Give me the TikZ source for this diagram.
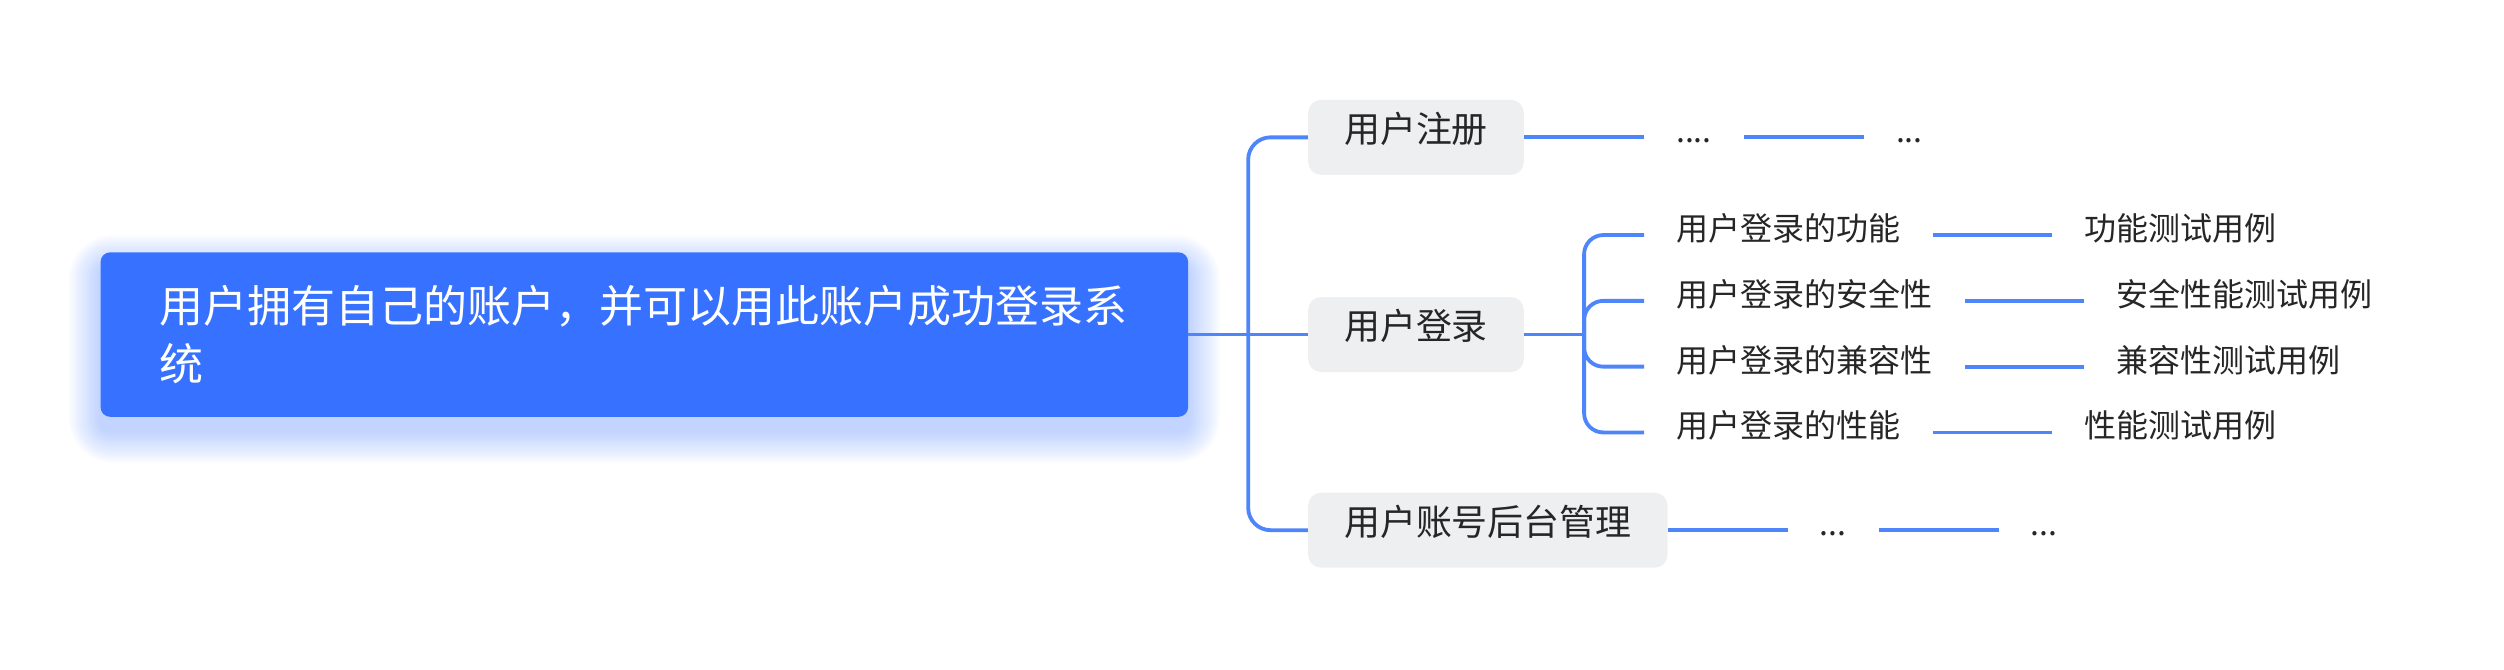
\documentclass[tikz,border=0pt]{standalone}
\usepackage{fontspec}
\setmainfont{Noto Sans CJK SC}
\usetikzlibrary{positioning,calc}
\definecolor{txt}{HTML}{262626}
\definecolor{rootfill}{HTML}{3672FF}
\definecolor{conncol}{HTML}{4E85FB}
\definecolor{boxgray}{HTML}{EEEFF1}
\newcommand{\mystrut}{\rule[-0.12em]{0pt}{1em}}
\tikzset{
  rootbox/.style={fill=rootfill, rounded corners=6pt, text=white,
    minimum width=681pt, minimum height=103pt, inner xsep=37pt, inner ysep=0pt,
    text width=607pt, align=left,
    font=\fontsize{27.55pt}{36pt}\selectfont},
  lvtwo/.style={fill=boxgray, rounded corners=8pt, text=txt, anchor=west,
    minimum height=47pt, inner xsep=22.5pt, inner ysep=0pt,
    text height=0.83em, text depth=0.17em,
    font=\fontsize{22.5pt}{27pt}\selectfont},
  lvthree/.style={text=txt, inner xsep=20pt, inner ysep=0pt,
    text height=0.84em, text depth=0.16em,
    font=\fontsize{20.04pt}{24pt}\selectfont},
  conn/.style={draw=conncol, line width=2.4pt}
}
\begin{document}
\begin{tikzpicture}[x=1pt,y=-1pt]
\useasboundingbox (0,0) rectangle (1568,419.5);
% glow of the main box
\foreach \i in {1,...,18}{
  \fill[rootfill, opacity=0.018, rounded corners={6pt+\i*1.2pt}]
    ({63-\i*1.1},{167-\i*1.1}) rectangle ({744+\i*1.1},{270+\i*1.1});
}
\node[rootbox] (root) at (403.5,209.5)
  {\mystrut 用户拥有自己的账户，并可以用此账户成功登录系\\\mystrut 统};

\node[lvtwo] (l2a) at (819,86) {用户注册};
\node[lvtwo] (l2b) at (819,209.5) {用户登录};
\node[lvtwo] (l2c) at (819,332) {用户账号后台管理};

% under 用户注册
\node[lvthree, right=75pt of l2a] (d1) {....};
\node[lvthree, right=75pt of d1] (d2) {...};
% under 用户账号后台管理
\node[lvthree, right=75pt of l2c] (d3) {...};
\node[lvthree, right=75pt of d3] (d4) {...};

% under 用户登录
\node[lvthree, anchor=west] (l3a) at (1029.5,147.2) {用户登录的功能};
\node[lvthree, anchor=west] (l3b) at (1029.5,188.4) {用户登录的安全性};
\node[lvthree, anchor=west] (l3c) at (1029.5,229.6) {用户登录的兼容性};
\node[lvthree, anchor=west] (l3d) at (1029.5,270.8) {用户登录的性能};

\node[lvthree, right=75pt of l3a] (t1) {功能测试用例};
\node[lvthree, right=75pt of l3b] (t2) {安全性能测试用例};
\node[lvthree, right=75pt of l3c] (t3) {兼容性测试用例};
\node[lvthree, right=75pt of l3d] (t4) {性能测试用例};

% connectors: root to level two
\coordinate (j1) at ($(root.east)!0.5!(l2b.west)$);
\draw[conn] (root.east) -- (l2b.west);
\draw[conn, rounded corners=14pt] (j1) |- (l2a.west);
\draw[conn, rounded corners=14pt] (j1) |- (l2c.west);

% connectors: 用户登录 branch
\coordinate (j2) at ($(l2b.east)!0.5!(l3a.west |- l2b.east)$);
\draw[conn] (l2b.east) -- (j2);
\draw[conn, rounded corners=12pt] (j2) |- (l3a.west);
\draw[conn, rounded corners=12pt] (j2) |- (l3b.west);
\draw[conn, rounded corners=12pt] (j2) |- (l3c.west);
\draw[conn, rounded corners=12pt] (j2) |- (l3d.west);

\draw[conn] (l3a.east) -- (t1.west);
\draw[conn] (l3b.east) -- (t2.west);
\draw[conn] (l3c.east) -- (t3.west);
\draw[conn] (l3d.east) -- (t4.west);

% connectors: dotted leaves
\draw[conn] (l2a.east) -- (d1.west);
\draw[conn] (d1.east) -- (d2.west);
\draw[conn] (l2c.east) -- (d3.west);
\draw[conn] (d3.east) -- (d4.west);
\end{tikzpicture}
\end{document}
